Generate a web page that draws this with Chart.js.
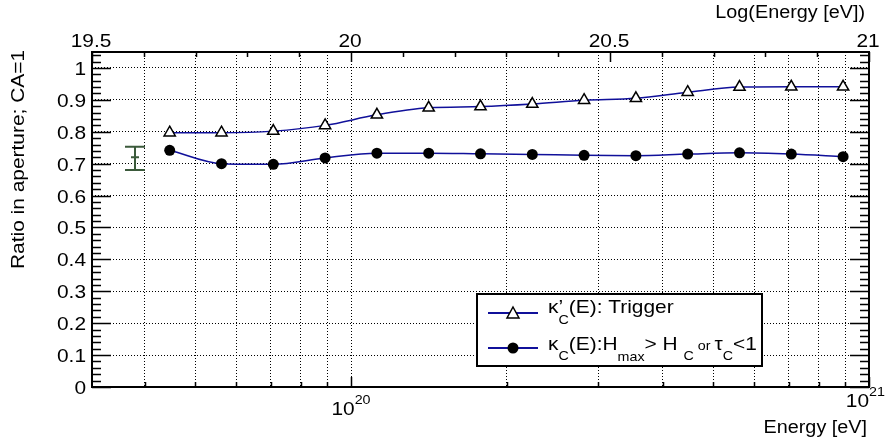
<!DOCTYPE html>
<html>
<head>
<meta charset="utf-8">
<script src="https://cdn.jsdelivr.net/npm/chart.js@4.4.1/dist/chart.umd.min.js"></script>
<style>
  html, body { margin: 0; padding: 0; background: #fff; }
</style>
</head>
<body>
<canvas id="chartRatio" width="886" height="444"></canvas>
<script>
// log10(E/eV) of each bin
const logE = [19.65, 19.75, 19.85, 19.95, 20.05, 20.15, 20.25, 20.35, 20.45, 20.55, 20.65, 20.75, 20.85, 20.95];
// kappa'_C(E): Trigger
const triggerRatio = [0.797, 0.797, 0.802, 0.820, 0.853, 0.875, 0.879, 0.887, 0.899, 0.905, 0.924, 0.940, 0.941, 0.941];
// kappa_C(E): Hmax > H_C or tau_C < 1
const hmaxRatio = [0.742, 0.700, 0.698, 0.718, 0.733, 0.733, 0.731, 0.729, 0.726, 0.725, 0.730, 0.734, 0.730, 0.722];
// single reference point with asymmetric error bar
const refLogE = [19.583];
const refValue = [0.720];
const refLow = [0.680];
const refHigh = [0.753];

const xTicks = [4e19, 5e19, 6e19, 7e19, 8e19, 9e19, 1e20, 2e20, 3e20, 4e20, 5e20, 6e20, 7e20, 8e20, 9e20, 1e21];
const topTicks = [19.5, 20, 20.5, 21];
const topLabels = ['19.5', '20', '20.5', '21'];
const yTicks = [0, 0.1, 0.2, 0.3, 0.4, 0.5, 0.6, 0.7, 0.8, 0.9, 1];
const yLabels = ['0', '0.1', '0.2', '0.3', '0.4', '0.5', '0.6', '0.7', '0.8', '0.9', '1'];

const FONT = '"Liberation Sans", Arial, sans-serif';
const SX = 1.1; // text is a bit wide in the original
const LINE = '#10109a';
const ERR = '#3b5a3b';

function txt(ctx, s, x, y, size, align) {
    ctx.save();
    ctx.font = size + 'px ' + FONT;
    ctx.translate(x, y);
    ctx.scale(SX, 1);
    ctx.textAlign = align || 'left';
    ctx.textBaseline = 'alphabetic';
    ctx.fillStyle = '#000';
    ctx.fillText(s, 0, 0);
    ctx.restore();
}

function width(ctx, s, size) {
    ctx.save();
    ctx.font = size + 'px ' + FONT;
    const w = ctx.measureText(s).width * SX;
    ctx.restore();
    return w;
}

// runs: {t, s, dy, stay}
function runs(ctx, list, x, y) {
    let cx = x;
    list.forEach(r => {
        txt(ctx, r.t, cx, y + (r.dy || 0), r.s, 'left');
        if (!r.stay) cx += width(ctx, r.t, r.s);
    });
}

const decor = {
    id: 'decor',
    afterDatasetsDraw(chart) {
        const ctx = chart.ctx;
        const xs = chart.scales.x, ys = chart.scales.y;
        ctx.save();
        ctx.strokeStyle = ERR;
        ctx.lineWidth = 2;
        for (let i = 0; i < refLogE.length; i++) {
            const px = xs.getPixelForValue(Math.pow(10, refLogE[i]));
            const yt = ys.getPixelForValue(refHigh[i]);
            const yb = ys.getPixelForValue(refLow[i]);
            const ym = ys.getPixelForValue(refValue[i]);
            ctx.beginPath();
            ctx.moveTo(px, yt); ctx.lineTo(px, yb);
            ctx.moveTo(px - 10, yt); ctx.lineTo(px + 10, yt);
            ctx.moveTo(px - 10, yb); ctx.lineTo(px + 10, yb);
            ctx.moveTo(px - 4, ym); ctx.lineTo(px + 4, ym);
            ctx.stroke();
        }
        ctx.restore();
    },
    afterDraw(chart) {
        const ctx = chart.ctx;
        const a = chart.chartArea;
        const xs = chart.scales.x, ys = chart.scales.y;
        ctx.save();
        ctx.strokeStyle = '#000';
        ctx.lineWidth = 1.5;
        ctx.beginPath();
        // y ticks, left and right
        for (let k = 0; k <= 52; k++) {
            const py = Math.round(ys.getPixelForValue(k * 0.02)) + 0.5;
            const len = k % 5 === 0 ? 19 : 9;
            ctx.moveTo(a.left, py); ctx.lineTo(a.left + len, py);
            ctx.moveTo(a.right, py); ctx.lineTo(a.right - len, py);
        }
        // bottom log ticks
        xTicks.forEach(v => {
            const px = Math.round(xs.getPixelForValue(v)) + 0.5;
            const len = (v === 1e20 || v === 1e21) ? 10 : 5;
            ctx.moveTo(px, a.bottom); ctx.lineTo(px, a.bottom - len);
        });
        // top linear ticks in log10(E)
        for (let k = 0; k <= 15; k++) {
            const px = Math.round(xs.getPixelForValue(Math.pow(10, 19.5 + k * 0.1))) + 0.5;
            const len = k % 5 === 0 ? 10 : 5;
            ctx.moveTo(px, a.top); ctx.lineTo(px, a.top + len);
        }
        ctx.stroke();
        // frame
        ctx.lineWidth = 2;
        ctx.strokeRect(a.left, a.top, a.right - a.left, a.bottom - a.top);

        // y labels
        yTicks.forEach((v, i) => {
            txt(ctx, yLabels[i], a.left - 6, ys.getPixelForValue(v) + 7, 19, 'right');
        });
        // top labels
        topTicks.forEach((v, i) => {
            txt(ctx, topLabels[i], xs.getPixelForValue(Math.pow(10, v)) - 1, 47, 19, 'center');
        });
        // bottom labels 10^20, 10^21
        [[1e20, '20', 415], [1e21, '21', 407]].forEach(([v, e, base]) => {
            const w1 = width(ctx, '10', 19), w2 = width(ctx, e, 13);
            let cx = xs.getPixelForValue(v) - (w1 + w2) / 2;
            if (cx + w1 + w2 > 885) cx = 885 - w1 - w2;
            txt(ctx, '10', cx, base, 19, 'left');
            txt(ctx, e, cx + w1, base - 11, 13, 'left');
        });
        // axis titles
        txt(ctx, 'Energy [eV]', 867, 433, 18, 'right');
        txt(ctx, 'Log(Energy [eV])', 865, 18, 18, 'right');
        ctx.save();
        ctx.translate(24, 50);
        ctx.rotate(-Math.PI / 2);
        txt(ctx, 'Ratio in aperture; CA=1', 0, 0, 19, 'right');
        ctx.restore();

        // legend
        const L = {x: 477, y: 294, w: 285, h: 72};
        ctx.fillStyle = '#fff';
        ctx.fillRect(L.x, L.y, L.w, L.h);
        ctx.lineWidth = 2;
        ctx.strokeRect(L.x, L.y, L.w, L.h);
        const rows = [313, 348];
        ctx.strokeStyle = LINE;
        ctx.lineWidth = 2;
        rows.forEach(ry => {
            ctx.beginPath();
            ctx.moveTo(488, ry); ctx.lineTo(538, ry);
            ctx.stroke();
        });
        // triangle sample
        ctx.strokeStyle = '#000';
        ctx.fillStyle = '#fff';
        ctx.lineWidth = 1.5;
        ctx.beginPath();
        ctx.moveTo(513, rows[0] - 6);
        ctx.lineTo(519, rows[0] + 5);
        ctx.lineTo(507, rows[0] + 5);
        ctx.closePath();
        ctx.fill(); ctx.stroke();
        // circle sample
        ctx.fillStyle = '#000';
        ctx.beginPath();
        ctx.arc(513, rows[1], 5.5, 0, Math.PI * 2);
        ctx.fill();

        runs(ctx, [
            {t: '\u03ba', s: 19},
            {t: '\u2019', s: 19, stay: true},
            {t: 'C', s: 13, dy: 11},
            {t: '(E): Trigger', s: 19}
        ], 548, 313);
        runs(ctx, [
            {t: '\u03ba', s: 19},
            {t: 'C', s: 13, dy: 10},
            {t: '(E):H', s: 19},
            {t: 'max', s: 13, dy: 11},
            {t: '> H ', s: 19},
            {t: 'C', s: 13, dy: 10},
            {t: ' or ', s: 13},
            {t: '\u03c4', s: 19},
            {t: 'C', s: 13, dy: 10},
            {t: '<1', s: 19}
        ], 548, 350);
        ctx.restore();
    }
};

const ctx = document.getElementById('chartRatio').getContext('2d');
new Chart(ctx, {
    type: 'line',
    data: {
        datasets: [{
            label: "\u03ba'C(E): Trigger",
            data: logE.map((l, i) => ({x: Math.pow(10, l), y: triggerRatio[i]})),
            borderColor: LINE,
            borderWidth: 1.5,
            cubicInterpolationMode: 'monotone',
            pointStyle: 'triangle',
            pointRadius: 6.5,
            pointBackgroundColor: '#fff',
            pointBorderColor: '#000',
            pointBorderWidth: 1.5
        }, {
            label: '\u03baC(E):Hmax > HC or \u03c4C<1',
            data: logE.map((l, i) => ({x: Math.pow(10, l), y: hmaxRatio[i]})),
            borderColor: LINE,
            borderWidth: 1.5,
            cubicInterpolationMode: 'monotone',
            pointStyle: 'circle',
            pointRadius: 5.5,
            pointBackgroundColor: '#000',
            pointBorderColor: '#000',
            pointBorderWidth: 0
        }]
    },
    options: {
        responsive: false,
        animation: false,
        devicePixelRatio: 1,
        layout: {padding: {left: 92, right: 17, top: 52, bottom: 57}},
        plugins: {legend: {display: false}, tooltip: {enabled: false}},
        scales: {
            x: {
                type: 'logarithmic',
                min: Math.pow(10, 19.5),
                max: 1e21,
                afterBuildTicks: s => { s.ticks = xTicks.map(v => ({value: v})); },
                ticks: {display: false},
                grid: {
                    drawTicks: false,
                    color: c => (c.tick && c.tick.value === 1e21) ? 'rgba(0,0,0,0)' : '#000',
                    lineWidth: 1
                },
                border: {display: false, dash: [1, 2]}
            },
            y: {
                min: 0,
                max: 1.05,
                afterBuildTicks: s => { s.ticks = yTicks.map(v => ({value: v})); },
                ticks: {display: false},
                grid: {
                    drawTicks: false,
                    color: c => (c.tick && c.tick.value === 0) ? 'rgba(0,0,0,0)' : '#000',
                    lineWidth: 1
                },
                border: {display: false, dash: [1, 2]}
            }
        }
    },
    plugins: [decor]
});
</script>
</body>
</html>
